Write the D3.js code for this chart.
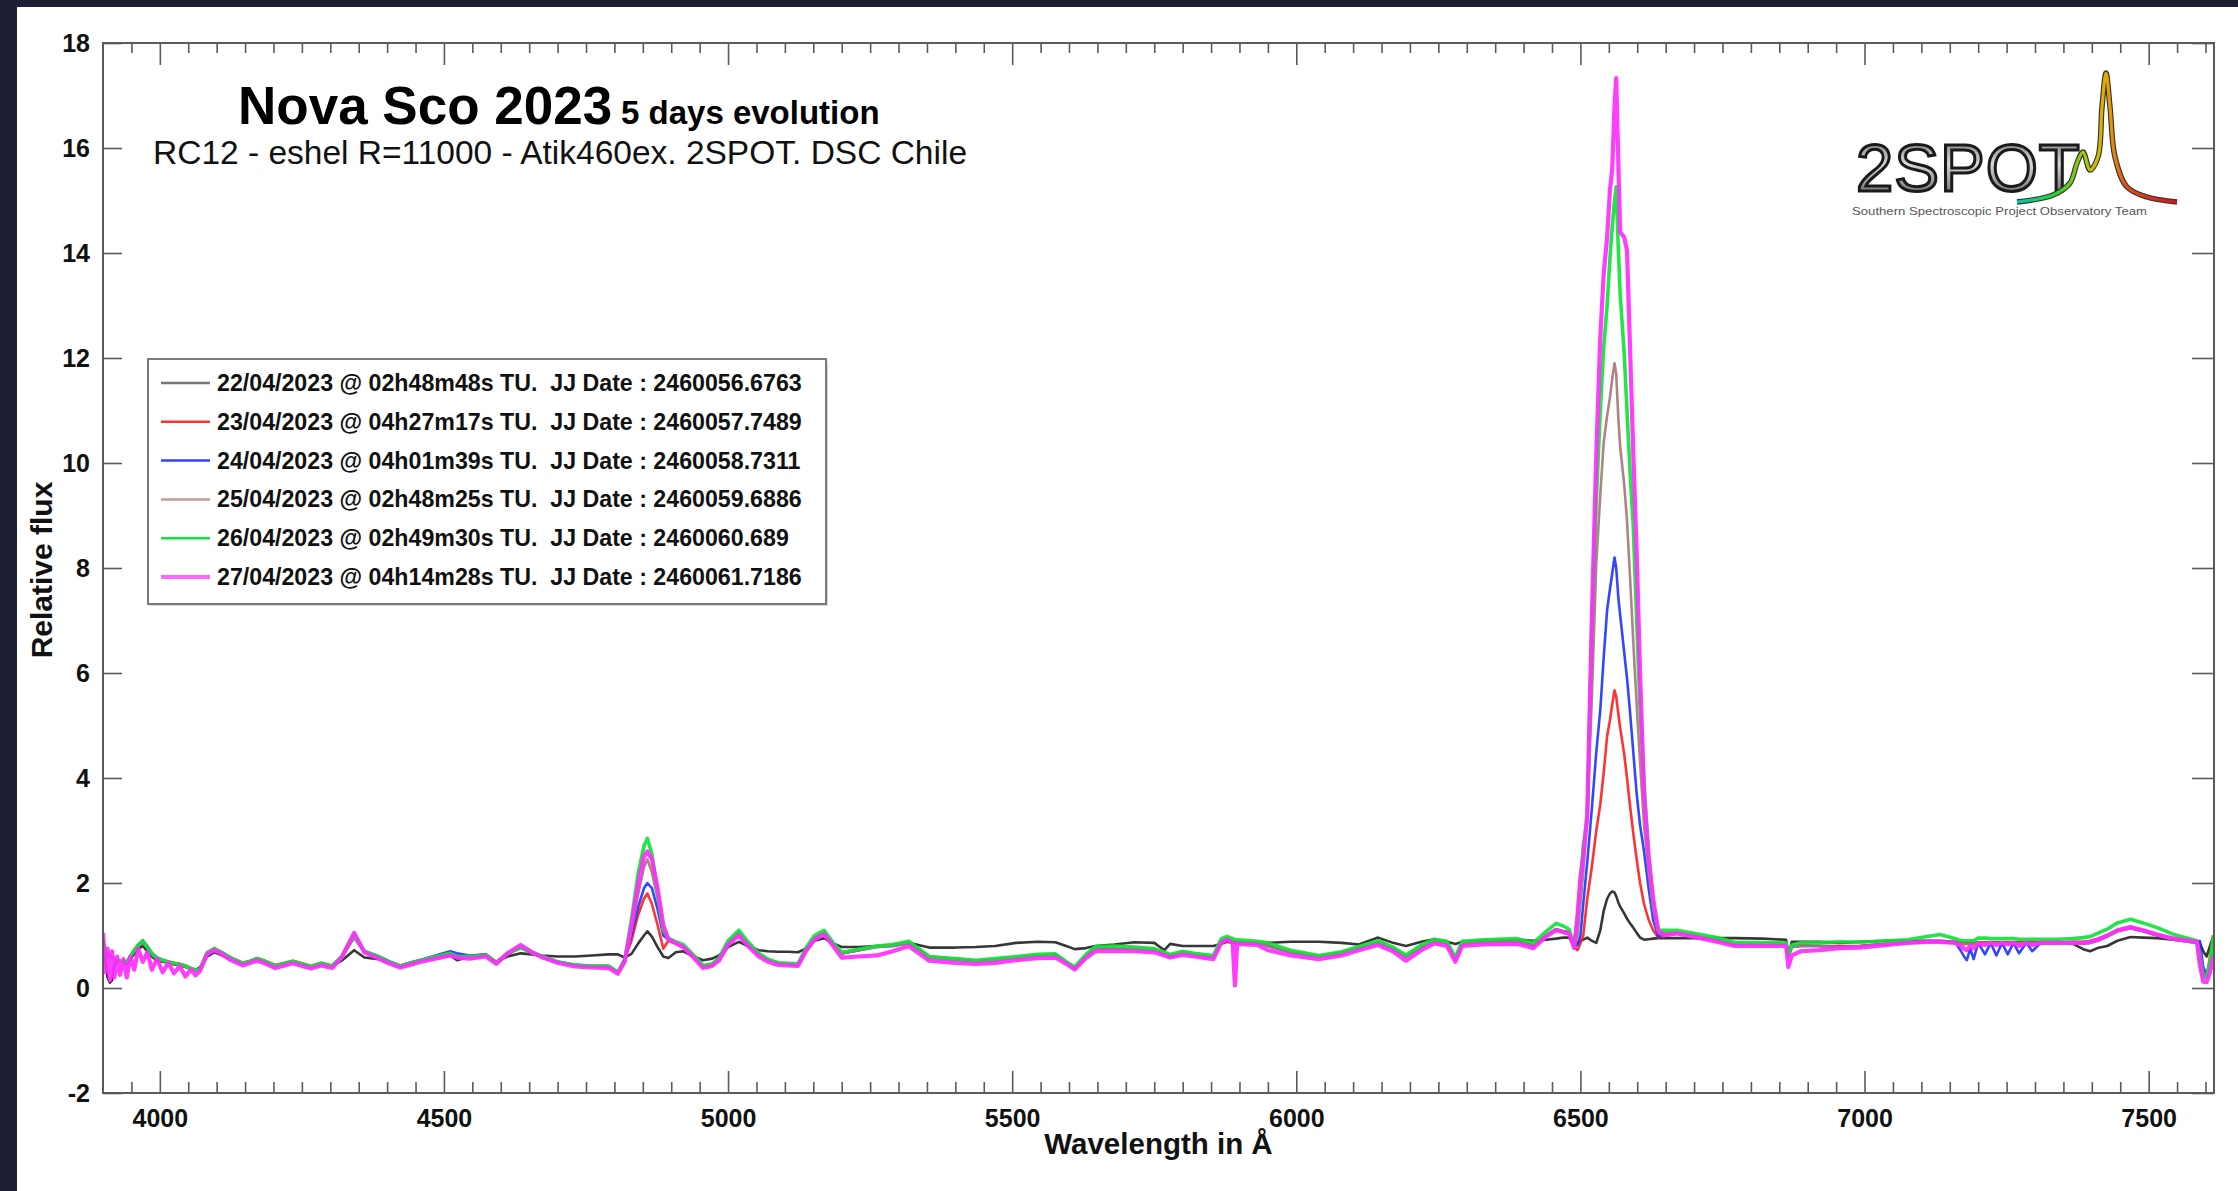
<!DOCTYPE html>
<html>
<head>
<meta charset="utf-8">
<script src="https://cdn.jsdelivr.net/npm/d3@7.9.0/dist/d3.min.js"></script>
<style>
  html, body { margin: 0; padding: 0; background: #1c1f35; }
  svg { display: block; }
  text { font-family: 'Liberation Sans', Arial, Helvetica, sans-serif; }
</style>
</head>
<body>
<svg id="chart" width="2238" height="1191"></svg>
<script>
// wavelengths in Angstrom, shared by every spectrum
const wavelengths = [
  3900, 3904, 3908, 3912, 3916, 3920, 3925, 3930, 3936, 3942,
  3948, 3955, 3962, 3970, 3978, 3986, 3995, 4005, 4015, 4025,
  4035, 4045, 4055, 4063, 4071, 4083, 4096, 4110, 4125, 4146,
  4160, 4171, 4185, 4203, 4220, 4234, 4250, 4266, 4284, 4303,
  4320, 4342, 4360, 4385, 4405, 4423, 4440, 4460, 4485, 4511,
  4523, 4545, 4574, 4592, 4612, 4635, 4655, 4674, 4700, 4730,
  4760, 4790, 4806, 4818, 4830, 4842, 4852, 4858, 4866, 4876,
  4886, 4895, 4908, 4921, 4940, 4956, 4972, 4984, 5000, 5019,
  5035, 5054, 5070, 5088, 5105, 5123, 5137, 5152, 5169, 5185,
  5200, 5230, 5262, 5290, 5318, 5354, 5400, 5436, 5470, 5507,
  5545, 5576, 5595, 5610, 5630, 5646, 5680, 5715, 5750, 5768,
  5778, 5800, 5820, 5854, 5868, 5878, 5888, 5892, 5896, 5910,
  5931, 5950, 5990, 6040, 6080, 6110, 6144, 6170, 6193, 6220,
  6243, 6265, 6280, 6292, 6330, 6389, 6417, 6440, 6457, 6470,
  6480, 6489, 6495, 6500, 6505, 6512, 6520, 6528, 6535, 6541,
  6547, 6552, 6556, 6560, 6563, 6567, 6570, 6577, 6582, 6587,
  6593, 6599, 6605, 6612, 6620, 6628, 6637, 6646, 6670, 6702,
  6740, 6771, 6820, 6862, 6866, 6872, 6888, 6920, 6957, 6992,
  7040, 7075, 7110, 7133, 7160, 7170, 7175, 7180, 7186, 7192,
  7200, 7212, 7222, 7232, 7242, 7252, 7262, 7272, 7285, 7295,
  7310, 7340, 7367, 7385, 7397, 7410, 7427, 7445, 7468, 7490,
  7515, 7544, 7585, 7590, 7596, 7602, 7608, 7614,
];

const flux22 = [
  0.95, 0.50, 0.20, 0.10, 0.15, 0.45, 0.50, 0.50, 0.48, 0.46,
  0.55, 0.65, 0.75, 0.80, 0.70, 0.60, 0.52, 0.50, 0.48, 0.45,
  0.43, 0.40, 0.36, 0.34, 0.40, 0.60, 0.68, 0.62, 0.55, 0.46,
  0.50, 0.55, 0.50, 0.42, 0.46, 0.50, 0.46, 0.40, 0.46, 0.42,
  0.52, 0.72, 0.58, 0.55, 0.48, 0.42, 0.47, 0.52, 0.58, 0.62,
  0.53, 0.60, 0.62, 0.50, 0.60, 0.66, 0.64, 0.62, 0.60, 0.60,
  0.62, 0.64, 0.64, 0.58, 0.65, 0.85, 1.00, 1.08, 0.98, 0.78,
  0.60, 0.57, 0.68, 0.70, 0.60, 0.53, 0.56, 0.62, 0.78, 0.88,
  0.80, 0.72, 0.70, 0.69, 0.69, 0.68, 0.75, 0.90, 0.95, 0.85,
  0.78, 0.78, 0.80, 0.82, 0.86, 0.77, 0.77, 0.78, 0.80, 0.86,
  0.88, 0.87, 0.80, 0.74, 0.76, 0.80, 0.83, 0.87, 0.86, 0.72,
  0.84, 0.80, 0.80, 0.80, 0.84, 0.88, 0.86, 0.86, 0.86, 0.85,
  0.84, 0.86, 0.88, 0.88, 0.86, 0.83, 0.96, 0.86, 0.80, 0.88,
  0.93, 0.88, 0.84, 0.88, 0.90, 0.92, 0.90, 0.92, 0.94, 0.96,
  0.96, 0.82, 0.85, 0.90, 0.92, 0.96, 0.90, 0.86, 1.10, 1.47,
  1.70, 1.80, 1.84, 1.82, 1.75, 1.62, 1.55, 1.42, 1.32, 1.24,
  1.15, 1.05, 0.96, 0.92, 0.93, 0.94, 0.95, 0.95, 0.95, 0.95,
  0.95, 0.95, 0.94, 0.92, 0.60, 0.88, 0.88, 0.88, 0.86, 0.88,
  0.90, 0.90, 0.90, 0.90, 0.88, 0.86, 0.86, 0.86, 0.86, 0.86,
  0.86, 0.87, 0.87, 0.87, 0.87, 0.87, 0.87, 0.87, 0.87, 0.87,
  0.87, 0.88, 0.84, 0.74, 0.70, 0.76, 0.80, 0.90, 0.97, 0.96,
  0.95, 0.92, 0.88, 0.86, 0.70, 0.60, 0.80, 1.00,
];

const flux23 = [
  0.95, 0.70, 0.66, 0.62, 0.60, 0.56, 0.53, 0.52, 0.50, 0.50,
  0.60, 0.72, 0.82, 0.90, 0.78, 0.65, 0.58, 0.54, 0.50, 0.48,
  0.46, 0.43, 0.38, 0.35, 0.37, 0.68, 0.76, 0.68, 0.58, 0.48,
  0.52, 0.57, 0.52, 0.44, 0.48, 0.52, 0.47, 0.42, 0.48, 0.43,
  0.60, 1.00, 0.70, 0.60, 0.50, 0.43, 0.48, 0.54, 0.60, 0.66,
  0.62, 0.60, 0.64, 0.50, 0.66, 0.78, 0.68, 0.60, 0.50, 0.44,
  0.42, 0.42, 0.30, 0.55, 0.90, 1.40, 1.70, 1.80, 1.60, 1.20,
  0.75, 0.90, 0.85, 0.80, 0.60, 0.42, 0.45, 0.55, 0.85, 1.04,
  0.85, 0.64, 0.54, 0.48, 0.47, 0.46, 0.72, 0.95, 1.06, 0.84,
  0.66, 0.72, 0.80, 0.82, 0.86, 0.60, 0.55, 0.52, 0.54, 0.58,
  0.62, 0.63, 0.50, 0.37, 0.60, 0.75, 0.76, 0.76, 0.73, 0.66,
  0.62, 0.68, 0.64, 0.60, 0.88, 0.94, 0.90, 0.88, 0.88, 0.88,
  0.86, 0.82, 0.68, 0.60, 0.68, 0.77, 0.87, 0.76, 0.60, 0.78,
  0.90, 0.86, 0.55, 0.86, 0.88, 0.90, 0.82, 1.00, 1.12, 1.08,
  1.06, 0.78, 0.72, 0.85, 1.00, 1.70, 2.30, 3.00, 3.50, 4.10,
  4.80, 5.10, 5.40, 5.67, 5.55, 5.20, 4.95, 4.46, 4.00, 3.50,
  2.95, 2.45, 2.00, 1.60, 1.30, 1.10, 0.96, 1.02, 1.06, 1.00,
  0.92, 0.84, 0.84, 0.84, 0.60, 0.80, 0.82, 0.80, 0.80, 0.80,
  0.84, 0.86, 0.88, 0.88, 0.86, 0.84, 0.84, 0.84, 0.84, 0.84,
  0.86, 0.86, 0.86, 0.86, 0.86, 0.86, 0.86, 0.86, 0.86, 0.86,
  0.86, 0.86, 0.88, 0.88, 0.90, 0.94, 1.00, 1.10, 1.16, 1.10,
  1.02, 0.94, 0.88, 0.70, 0.30, 0.20, 0.60, 1.00,
];

const flux24 = [
  0.90, 0.68, 0.62, 0.60, 0.58, 0.54, 0.52, 0.50, 0.50, 0.48,
  0.58, 0.70, 0.82, 0.90, 0.80, 0.66, 0.58, 0.53, 0.50, 0.47,
  0.45, 0.42, 0.37, 0.34, 0.36, 0.66, 0.74, 0.67, 0.58, 0.47,
  0.52, 0.56, 0.51, 0.42, 0.47, 0.51, 0.46, 0.41, 0.47, 0.42,
  0.60, 1.00, 0.70, 0.60, 0.50, 0.42, 0.48, 0.54, 0.62, 0.70,
  0.66, 0.62, 0.64, 0.48, 0.66, 0.76, 0.68, 0.60, 0.50, 0.44,
  0.42, 0.42, 0.30, 0.55, 1.00, 1.55, 1.90, 2.00, 1.90, 1.50,
  1.00, 0.92, 0.86, 0.80, 0.60, 0.41, 0.45, 0.55, 0.86, 1.05,
  0.85, 0.64, 0.54, 0.47, 0.46, 0.45, 0.72, 0.96, 1.06, 0.84,
  0.66, 0.72, 0.78, 0.80, 0.86, 0.58, 0.54, 0.51, 0.53, 0.58,
  0.62, 0.64, 0.50, 0.38, 0.62, 0.76, 0.76, 0.75, 0.72, 0.64,
  0.58, 0.67, 0.63, 0.58, 0.88, 0.94, 0.90, 0.88, 0.88, 0.87,
  0.86, 0.80, 0.68, 0.60, 0.66, 0.76, 0.86, 0.74, 0.60, 0.78,
  0.89, 0.85, 0.54, 0.85, 0.87, 0.89, 0.80, 1.00, 1.12, 1.08,
  1.06, 0.78, 0.82, 1.00, 1.60, 2.40, 3.40, 4.50, 5.30, 6.30,
  7.20, 7.60, 7.90, 8.20, 8.00, 7.40, 7.10, 6.40, 5.90, 5.30,
  4.50, 3.70, 3.10, 2.60, 1.90, 1.30, 0.98, 1.02, 1.06, 1.00,
  0.91, 0.83, 0.83, 0.83, 0.60, 0.78, 0.80, 0.80, 0.78, 0.80,
  0.84, 0.86, 0.88, 0.88, 0.86, 0.70, 0.60, 0.53, 0.75, 0.55,
  0.86, 0.64, 0.86, 0.62, 0.86, 0.64, 0.86, 0.66, 0.86, 0.70,
  0.86, 0.86, 0.87, 0.85, 0.86, 0.90, 0.98, 1.08, 1.14, 1.08,
  1.00, 0.92, 0.86, 0.90, 0.40, 0.25, 0.50, 0.80,
];

const flux25 = [
  0.90, 0.66, 0.62, 0.60, 0.58, 0.54, 0.52, 0.50, 0.49, 0.48,
  0.58, 0.70, 0.80, 0.87, 0.76, 0.64, 0.56, 0.52, 0.49, 0.47,
  0.45, 0.42, 0.37, 0.34, 0.36, 0.66, 0.74, 0.66, 0.56, 0.46,
  0.50, 0.55, 0.50, 0.42, 0.46, 0.50, 0.45, 0.40, 0.46, 0.41,
  0.58, 0.95, 0.68, 0.58, 0.48, 0.41, 0.46, 0.52, 0.58, 0.64,
  0.60, 0.58, 0.62, 0.48, 0.64, 0.76, 0.66, 0.58, 0.49, 0.43,
  0.41, 0.41, 0.30, 0.50, 1.10, 1.80, 2.30, 2.45, 2.20, 1.70,
  1.10, 0.92, 0.86, 0.80, 0.60, 0.42, 0.45, 0.55, 0.85, 1.03,
  0.84, 0.64, 0.54, 0.47, 0.46, 0.45, 0.72, 0.95, 1.05, 0.83,
  0.66, 0.72, 0.78, 0.80, 0.85, 0.58, 0.54, 0.51, 0.53, 0.58,
  0.62, 0.62, 0.50, 0.38, 0.60, 0.75, 0.76, 0.75, 0.72, 0.65,
  0.62, 0.67, 0.63, 0.59, 0.87, 0.93, 0.89, 0.87, 0.87, 0.86,
  0.85, 0.80, 0.68, 0.60, 0.66, 0.76, 0.86, 0.74, 0.60, 0.78,
  0.89, 0.85, 0.54, 0.85, 0.87, 0.89, 0.80, 1.00, 1.12, 1.08,
  1.06, 0.78, 1.00, 1.60, 2.20, 3.30, 5.50, 8.10, 9.40, 10.40,
  10.90, 11.25, 11.60, 11.90, 11.70, 10.80, 10.30, 9.60, 8.90, 7.90,
  6.60, 5.40, 4.30, 3.10, 2.20, 1.50, 1.05, 1.05, 1.06, 1.00,
  0.91, 0.83, 0.83, 0.83, 0.60, 0.78, 0.80, 0.80, 0.78, 0.80,
  0.84, 0.86, 0.88, 0.88, 0.86, 0.84, 0.84, 0.84, 0.84, 0.84,
  0.86, 0.86, 0.86, 0.86, 0.86, 0.86, 0.86, 0.86, 0.86, 0.86,
  0.86, 0.86, 0.87, 0.86, 0.86, 0.90, 0.98, 1.08, 1.14, 1.08,
  1.00, 0.92, 0.86, 0.70, 0.30, 0.20, 0.50, 0.80,
];

const flux26 = [
  0.90, 0.68, 0.64, 0.60, 0.58, 0.55, 0.53, 0.52, 0.50, 0.50,
  0.60, 0.72, 0.82, 0.90, 0.78, 0.66, 0.57, 0.53, 0.50, 0.47,
  0.45, 0.42, 0.37, 0.34, 0.36, 0.67, 0.75, 0.67, 0.57, 0.47,
  0.51, 0.56, 0.51, 0.42, 0.47, 0.51, 0.46, 0.41, 0.47, 0.42,
  0.60, 1.02, 0.70, 0.60, 0.49, 0.42, 0.47, 0.53, 0.60, 0.66,
  0.60, 0.60, 0.63, 0.48, 0.66, 0.78, 0.68, 0.60, 0.50, 0.44,
  0.42, 0.42, 0.30, 0.52, 1.30, 2.20, 2.70, 2.85, 2.55, 1.80,
  1.10, 0.95, 0.88, 0.83, 0.62, 0.43, 0.46, 0.57, 0.90, 1.10,
  0.88, 0.66, 0.55, 0.48, 0.47, 0.46, 0.76, 1.00, 1.10, 0.86,
  0.68, 0.74, 0.80, 0.83, 0.89, 0.60, 0.56, 0.53, 0.56, 0.60,
  0.64, 0.65, 0.50, 0.40, 0.64, 0.79, 0.80, 0.78, 0.75, 0.68,
  0.64, 0.70, 0.66, 0.62, 0.94, 0.98, 0.94, 0.92, 0.92, 0.91,
  0.89, 0.86, 0.72, 0.62, 0.69, 0.79, 0.90, 0.78, 0.63, 0.82,
  0.93, 0.89, 0.58, 0.89, 0.92, 0.94, 0.86, 1.08, 1.23, 1.18,
  1.12, 0.80, 1.30, 2.00, 2.70, 3.20, 6.80, 9.30, 11.00, 12.20,
  13.00, 13.90, 14.50, 15.00, 15.26, 14.00, 13.20, 12.10, 11.00, 9.90,
  8.80, 7.00, 5.30, 3.90, 2.50, 1.60, 1.10, 1.10, 1.10, 1.04,
  0.96, 0.87, 0.86, 0.86, 0.62, 0.82, 0.86, 0.86, 0.88, 0.87,
  0.90, 0.92, 0.98, 1.02, 0.94, 0.90, 0.90, 0.90, 0.90, 0.90,
  0.95, 0.95, 0.94, 0.94, 0.94, 0.94, 0.94, 0.93, 0.93, 0.93,
  0.93, 0.93, 0.94, 0.96, 0.98, 1.04, 1.12, 1.24, 1.31, 1.24,
  1.15, 1.02, 0.90, 0.50, 0.20, 0.20, 0.50, 1.00,
];

const flux27 = [
  1.05, 0.30, 0.75, 0.15, 0.70, 0.20, 0.60, 0.25, 0.55, 0.20,
  0.60, 0.35, 0.75, 0.50, 0.68, 0.35, 0.55, 0.30, 0.48, 0.28,
  0.42, 0.22, 0.35, 0.24, 0.33, 0.64, 0.72, 0.64, 0.53, 0.43,
  0.48, 0.52, 0.47, 0.38, 0.43, 0.47, 0.42, 0.37, 0.43, 0.38,
  0.58, 1.05, 0.68, 0.56, 0.46, 0.39, 0.44, 0.50, 0.56, 0.62,
  0.58, 0.56, 0.60, 0.46, 0.66, 0.82, 0.68, 0.58, 0.48, 0.41,
  0.39, 0.38, 0.27, 0.50, 1.20, 2.00, 2.50, 2.60, 2.45, 1.90,
  1.20, 0.92, 0.85, 0.78, 0.57, 0.38, 0.42, 0.52, 0.82, 1.00,
  0.80, 0.60, 0.50, 0.44, 0.43, 0.42, 0.70, 0.92, 1.02, 0.80,
  0.58, 0.60, 0.62, 0.70, 0.80, 0.52, 0.48, 0.46, 0.48, 0.53,
  0.57, 0.58, 0.46, 0.35, 0.57, 0.70, 0.70, 0.70, 0.68, 0.62,
  0.58, 0.63, 0.60, 0.55, 0.86, 0.92, 0.86, 0.05, 0.84, 0.83,
  0.82, 0.72, 0.62, 0.55, 0.62, 0.72, 0.82, 0.70, 0.52, 0.72,
  0.85, 0.80, 0.50, 0.80, 0.83, 0.84, 0.76, 0.98, 1.10, 1.06,
  1.04, 0.76, 1.40, 2.10, 2.50, 3.30, 7.00, 10.20, 12.40, 13.60,
  14.30, 15.20, 15.60, 16.80, 17.33, 15.60, 14.40, 14.30, 14.05, 12.30,
  10.20, 8.30, 6.00, 3.70, 2.50, 1.70, 1.10, 1.00, 1.04, 0.97,
  0.88, 0.80, 0.80, 0.80, 0.40, 0.62, 0.70, 0.72, 0.76, 0.77,
  0.82, 0.86, 0.88, 0.88, 0.86, 0.80, 0.75, 0.72, 0.80, 0.76,
  0.84, 0.82, 0.86, 0.82, 0.86, 0.83, 0.86, 0.80, 0.86, 0.82,
  0.86, 0.86, 0.86, 0.86, 0.88, 0.92, 1.00, 1.10, 1.16, 1.10,
  1.02, 0.94, 0.88, 0.45, 0.12, 0.11, 0.30, 0.60,
];

const seriesLabels = [
  '22/04/2023 @ 02h48m48s TU.  JJ Date : 2460056.6763',
  '23/04/2023 @ 04h27m17s TU.  JJ Date : 2460057.7489',
  '24/04/2023 @ 04h01m39s TU.  JJ Date : 2460058.7311',
  '25/04/2023 @ 02h48m25s TU.  JJ Date : 2460059.6886',
  '26/04/2023 @ 02h49m30s TU.  JJ Date : 2460060.689',
  '27/04/2023 @ 04h14m28s TU.  JJ Date : 2460061.7186',
];
const seriesValues = [flux22, flux23, flux24, flux25, flux26, flux27];

const xMajorTicks = [4000, 4500, 5000, 5500, 6000, 6500, 7000, 7500];
const yTicks = [-2, 0, 2, 4, 6, 8, 10, 12, 14, 16, 18];

// logo spectrum trace, as (offset, height) pairs
const logoProfile = [
  [0, 0], [36, 7], [53, 19], [60, 39], [66, 50], [73, 32], [81, 45],
  [85, 95], [89, 129], [93, 95], [98, 45], [110, 15], [130, 5], [160, 0],
];

// styles
const seriesColors = ['#262626', '#ff2222', '#2236ff', '#a87878', '#12e238', '#ff2cff'];
const seriesWidths = [2.6, 2.6, 2.6, 2.6, 3.6, 4.2];
const legendSwatch = ['#777777', '#ff3030', '#3040ff', '#c09c9c', '#10e040', '#ff66ff'];

const W = 2238;
const H = 1191;
const plot = { left: 103, right: 2214, top: 43, bottom: 1093 };

const svg = d3.select('#chart');

svg.append('rect').attr('width', W).attr('height', H).attr('fill', '#1c1f35');
svg.append('rect')
  .attr('x', 17).attr('y', 7)
  .attr('width', W - 17).attr('height', H - 7)
  .attr('fill', '#ffffff');

const x = d3.scaleLinear().domain([3900, 7615]).range([plot.left, plot.right]);
const y = d3.scaleLinear().domain([-2, 18]).range([plot.bottom, plot.top]);

svg.append('clipPath').attr('id', 'plot-clip')
  .append('rect')
  .attr('x', plot.left).attr('y', plot.top)
  .attr('width', plot.right - plot.left).attr('height', plot.bottom - plot.top);

// spectra
const line = d3.line()
  .x((d) => x(d[0]))
  .y((d) => y(d[1]));

const spectra = svg.append('g').attr('clip-path', 'url(#plot-clip)');
seriesValues.forEach((values, i) => {
  spectra.append('path')
    .datum(wavelengths.map((w, j) => [w, values[j]]))
    .attr('d', line)
    .attr('fill', 'none')
    .attr('stroke', seriesColors[i])
    .attr('stroke-width', seriesWidths[i])
    .attr('stroke-linejoin', 'round')
    .attr('opacity', 0.92);
});

// axes
const minorTicks = d3.range(3950, 7615, 50).filter((v) => v % 500 !== 0);
const axisColor = '#5a5a5a';

function styleAxis(g) {
  g.select('.domain').remove();
  g.selectAll('.tick line').attr('stroke', axisColor).attr('stroke-width', 1.6);
  g.selectAll('.tick text')
    .attr('fill', '#111')
    .attr('font-size', 25)
    .attr('font-weight', 'bold')
    .attr('font-family', "'Liberation Sans', Arial, sans-serif");
}

svg.append('g')
  .attr('transform', `translate(0,${plot.bottom})`)
  .call(d3.axisBottom(x).tickValues(xMajorTicks).tickSize(-22).tickPadding(16).tickFormat(d3.format('d')))
  .call(styleAxis);
svg.append('g')
  .attr('transform', `translate(0,${plot.bottom})`)
  .call(d3.axisBottom(x).tickValues(minorTicks).tickSize(-11).tickFormat(''))
  .call(styleAxis);
svg.append('g')
  .attr('transform', `translate(0,${plot.top})`)
  .call(d3.axisTop(x).tickValues(xMajorTicks).tickSize(-22).tickFormat(''))
  .call(styleAxis);
svg.append('g')
  .attr('transform', `translate(0,${plot.top})`)
  .call(d3.axisTop(x).tickValues(minorTicks).tickSize(-10).tickFormat(''))
  .call(styleAxis);
svg.append('g')
  .attr('transform', `translate(${plot.left},0)`)
  .call(d3.axisLeft(y).tickValues(yTicks).tickSize(-19).tickPadding(13).tickFormat((d) => String(d)))
  .call(styleAxis);
svg.append('g')
  .attr('transform', `translate(${plot.right},0)`)
  .call(d3.axisRight(y).tickValues(yTicks).tickSize(-22).tickFormat(''))
  .call(styleAxis);

svg.append('rect')
  .attr('x', plot.left).attr('y', plot.top)
  .attr('width', plot.right - plot.left).attr('height', plot.bottom - plot.top)
  .attr('fill', 'none')
  .attr('stroke', axisColor)
  .attr('stroke-width', 2);

// axis titles
svg.append('text')
  .attr('x', (plot.left + plot.right) / 2)
  .attr('y', 1154)
  .attr('text-anchor', 'middle')
  .attr('font-size', 29.5)
  .attr('font-weight', 'bold')
  .attr('fill', '#111')
  .text('Wavelength in Å');

svg.append('text')
  .attr('transform', 'translate(52,570) rotate(-90)')
  .attr('text-anchor', 'middle')
  .attr('font-size', 30)
  .attr('font-weight', 'bold')
  .attr('fill', '#111')
  .text('Relative flux');

// titles
svg.append('text')
  .attr('x', 238).attr('y', 124)
  .attr('font-size', 53)
  .attr('font-weight', 'bold')
  .attr('fill', '#000')
  .text('Nova Sco 2023');
svg.append('text')
  .attr('x', 621).attr('y', 124)
  .attr('font-size', 33)
  .attr('font-weight', 'bold')
  .attr('fill', '#000')
  .text('5 days evolution');
svg.append('text')
  .attr('x', 153).attr('y', 164)
  .attr('font-size', 33.5)
  .attr('fill', '#111')
  .text('RC12 - eshel R=11000 - Atik460ex. 2SPOT. DSC Chile');

// legend
const legend = svg.append('g');
legend.append('rect')
  .attr('x', 150).attr('y', 361)
  .attr('width', 678).attr('height', 245)
  .attr('fill', '#d8d8d8');
legend.append('rect')
  .attr('x', 148).attr('y', 359)
  .attr('width', 678).attr('height', 245)
  .attr('fill', '#fff')
  .attr('stroke', '#7a7a7a')
  .attr('stroke-width', 2);

seriesLabels.forEach((label, i) => {
  const cy = 383 + i * 38.8;
  legend.append('line')
    .attr('x1', 161).attr('x2', 210)
    .attr('y1', cy).attr('y2', cy)
    .attr('stroke', legendSwatch[i])
    .attr('stroke-width', i === 5 ? 4 : 2.5);
  legend.append('text')
    .attr('x', 217).attr('y', cy + 8)
    .attr('font-size', 23.2)
    .attr('font-weight', 'bold')
    .attr('fill', '#111')
    .attr('xml:space', 'preserve')
    .style('white-space', 'pre')
    .text(label);
});

// 2SPOT logo
const defs = svg.append('defs');
const grad = defs.append('linearGradient').attr('id', 'logo-grad')
  .attr('x1', '0%').attr('x2', '100%').attr('y1', '0%').attr('y2', '0%');
[['0%', '#00c8b4'], ['25%', '#2ed12a'], ['45%', '#b9c800'], ['56%', '#e6a800'],
  ['68%', '#e0501c'], ['100%', '#d01414']].forEach(([o, c]) => {
  grad.append('stop').attr('offset', o).attr('stop-color', c);
});
const textGrad = defs.append('linearGradient').attr('id', 'logo-text')
  .attr('x1', '0%').attr('x2', '0%').attr('y1', '0%').attr('y2', '100%');
textGrad.append('stop').attr('offset', '0%').attr('stop-color', '#5a5a5a');
textGrad.append('stop').attr('offset', '45%').attr('stop-color', '#d8d8d8');
textGrad.append('stop').attr('offset', '100%').attr('stop-color', '#4a4a4a');

svg.append('text')
  .attr('x', 1856).attr('y', 191)
  .attr('font-family', "'DejaVu Sans', sans-serif")
  .attr('font-size', 67)
  .attr('letter-spacing', 1)
  .attr('fill', 'url(#logo-text)')
  .attr('stroke', '#1a1a1a')
  .attr('stroke-width', 3)
  .text('2SPOT');

const logoX = d3.scaleLinear().domain([0, 160]).range([2017, 2177]);
const logoY = d3.scaleLinear().domain([0, 129]).range([202, 73]);
const logoLine = d3.line()
  .x((d) => logoX(d[0]))
  .y((d) => logoY(d[1]))
  .curve(d3.curveCatmullRom);
svg.append('path')
  .attr('d', logoLine(logoProfile))
  .attr('fill', 'none')
  .attr('stroke', '#333')
  .attr('stroke-width', 5.5);
svg.append('path')
  .attr('d', logoLine(logoProfile))
  .attr('fill', 'none')
  .attr('stroke', 'url(#logo-grad)')
  .attr('stroke-width', 3.2);

svg.append('text')
  .attr('x', 1852).attr('y', 215)
  .attr('font-size', 11.5)
  .attr('fill', '#555')
  .attr('textLength', 295)
  .attr('lengthAdjust', 'spacingAndGlyphs')
  .text('Southern Spectroscopic Project Observatory Team');
</script>
</body>
</html>
